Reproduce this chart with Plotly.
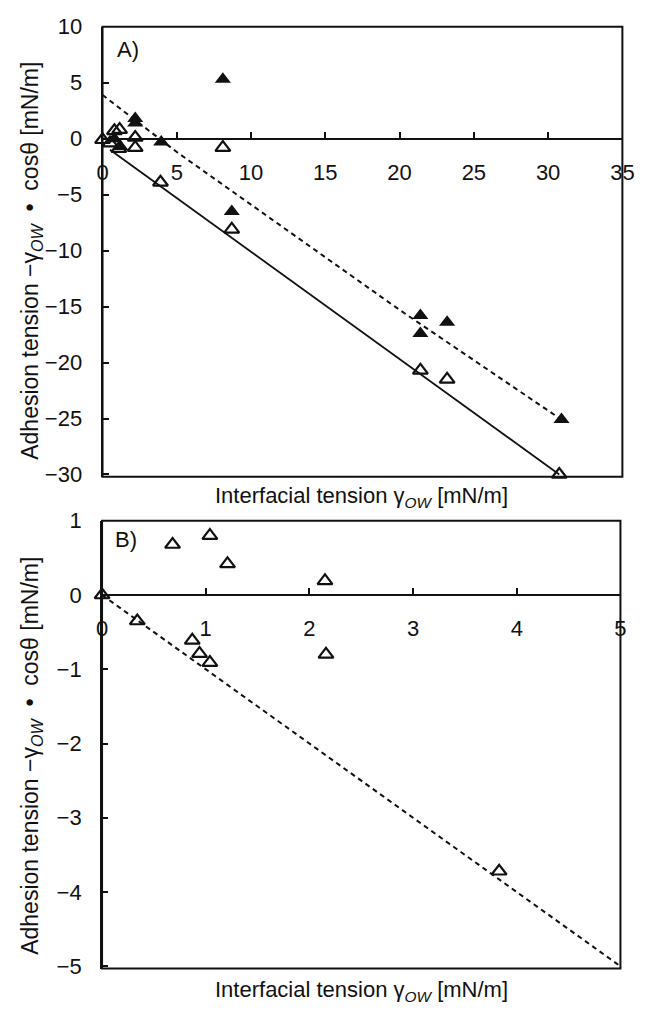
import plotly.graph_objects as go

# ---------------- data ----------------
# Panel A
a_open_x = [0.0, 0.5, 0.8, 1.15, 1.1, 2.2, 2.2, 3.9, 8.1, 8.7, 21.4, 23.2, 30.75]
a_open_y = [-0.1, -0.4, 0.7, 0.8, -0.9, 0.1, -0.8, -3.9, -0.8, -8.1, -20.7, -21.5, -30.0]
a_filled_x = [0.8, 1.2, 2.2, 2.2, 3.95, 8.1, 8.7, 21.4, 21.4, 23.2, 30.9]
a_filled_y = [0.0, -0.7, 1.8, 1.4, -0.3, 5.3, -6.5, -15.8, -17.4, -16.4, -25.1]
a_solid_x = [0.5, 30.75]
a_solid_y = [-1.0, -30.0]
a_dash_x = [0.0, 5.0, 20.0, 30.9]
a_dash_y = [3.9, -1.2, -15.3, -25.1]
a_xticks = [0, 5, 10, 15, 20, 25, 30, 35]
a_yticks = [10, 5, 0, -5, -10, -15, -20, -25, -30]

# Panel B
b_open_x = [0.0, 0.34, 0.68, 1.04, 1.21, 2.15, 0.87, 0.94, 1.04, 2.16, 3.83]
b_open_y = [0.0, -0.35, 0.68, 0.80, 0.42, 0.19, -0.61, -0.79, -0.91, -0.80, -3.72]
b_dash_x = [0.0, 5.0]
b_dash_y = [0.0, -5.0]
b_xticks = [0, 1, 2, 3, 4, 5]
b_yticks = [1, 0, -1, -2, -3, -4, -5]

x_title = "Interfacial tension γ<sub><i>OW</i></sub> [mN/m]"
y_title = "Adhesion tension −γ<sub><i>OW</i></sub>  •  cosθ [mN/m]"

# ---------------- layout geometry ----------------
W, H = 648, 1016
A_x = [99.3 / W, 634.0 / W]
A_y = [(H - 475.0) / H, (H - 15.0) / H]
A_xr = [0, 35]
A_yr = [-30.2, 10.0]
B_x = [98.8 / W, 632.0 / W]
B_y = [(H - 977.7) / H, (H - 520.0) / H]
B_xr = [0, 5]
B_yr = [-5.03, 1.0]


def zero_pos(dom, rng):
    return dom[0] + (0 - rng[0]) / (rng[1] - rng[0]) * (dom[1] - dom[0])


FONT = "Liberation Sans, Arial, Helvetica, sans-serif"
BLACK = "#111111"

fig = go.Figure()

# Panel A traces
fig.add_trace(go.Scatter(x=a_solid_x, y=a_solid_y, mode="lines",
                         line=dict(color=BLACK, width=1.8), xaxis="x", yaxis="y",
                         showlegend=False))
fig.add_trace(go.Scatter(x=a_dash_x, y=a_dash_y, mode="lines",
                         line=dict(color=BLACK, width=2, dash="5px,4px"),
                         xaxis="x", yaxis="y", showlegend=False))
fig.add_trace(go.Scatter(x=a_open_x, y=a_open_y, mode="markers",
                         marker=dict(symbol="triangle-up-open", size=13, color=BLACK,
                                     line=dict(width=2.2, color=BLACK)),
                         cliponaxis=False, xaxis="x", yaxis="y", showlegend=False))
fig.add_trace(go.Scatter(x=a_filled_x, y=a_filled_y, mode="markers",
                         marker=dict(symbol="triangle-up", size=14, color=BLACK),
                         cliponaxis=False, xaxis="x", yaxis="y", showlegend=False))

# Panel B traces
fig.add_trace(go.Scatter(x=b_dash_x, y=b_dash_y, mode="lines",
                         line=dict(color=BLACK, width=2, dash="5px,4px"),
                         xaxis="x2", yaxis="y2", showlegend=False))
fig.add_trace(go.Scatter(x=b_open_x, y=b_open_y, mode="markers",
                         marker=dict(symbol="triangle-up-open", size=13, color=BLACK,
                                     line=dict(width=2.2, color=BLACK)),
                         cliponaxis=False, xaxis="x2", yaxis="y2", showlegend=False))

tickfont = dict(family=FONT, size=22, color=BLACK)

xcommon = dict(showgrid=False, zeroline=False, showline=True, linecolor=BLACK,
               linewidth=2, ticks="inside", ticklen=6, tickwidth=1.5, tickcolor=BLACK,
               tickfont=tickfont, anchor="free", ticklabelstandoff=14)
ycommon = dict(showgrid=False, zeroline=False, showline=True, linecolor=BLACK,
               linewidth=2, ticks="inside", ticklen=6, tickwidth=1.5, tickcolor=BLACK,
               tickfont=tickfont, ticklabelstandoff=14)

fig.update_layout(
    width=W, height=H, autosize=False,
    margin=dict(l=0, r=0, t=0, b=0),
    paper_bgcolor="white", plot_bgcolor="white",
    font=dict(family=FONT, color=BLACK),
    xaxis=dict(domain=A_x, range=A_xr, tickvals=a_xticks,
               position=zero_pos(A_y, A_yr), **xcommon),
    yaxis=dict(domain=A_y, range=A_yr, tickvals=a_yticks, anchor="x", **ycommon),
    xaxis2=dict(domain=B_x, range=B_xr, tickvals=b_xticks,
                position=zero_pos(B_y, B_yr), **xcommon),
    yaxis2=dict(domain=B_y, range=B_yr, tickvals=b_yticks, anchor="x2", **ycommon),
)

# frames
for xr, yr in (("x", "y"), ("x2", "y2")):
    fig.add_shape(type="rect", xref=f"{xr} domain", yref=f"{yr} domain",
                  x0=0, x1=1, y0=0, y1=1, line=dict(color=BLACK, width=2),
                  layer="above")

xt_font = dict(family=FONT, size=22, color=BLACK)
yt_font = dict(family=FONT, size=23, color=BLACK)
common_ann = dict(xref="paper", yref="paper", showarrow=False,
                  xanchor="center", yanchor="middle")
annotations = [
    # panel labels
    dict(text="A)", x=125 / W, y=1 - 38 / H,
         font=dict(family=FONT, size=22, color=BLACK), **common_ann),
    dict(text="B)", x=123 / W, y=1 - 539 / H,
         font=dict(family=FONT, size=22, color=BLACK), **common_ann),
    # x titles
    dict(text=x_title, x=366 / W, y=1 - 496 / H, font=xt_font, **common_ann),
    dict(text=x_title, x=366 / W, y=1 - 1001 / H, font=xt_font, **common_ann),
    # y titles
    dict(text=y_title, x=26 / W, y=1 - 254 / H, textangle=-90,
         font=yt_font, **common_ann),
    dict(text=y_title, x=26 / W, y=1 - 760 / H, textangle=-90,
         font=yt_font, **common_ann),
]
fig.update_layout(annotations=annotations)

fig.write_html(
    "out.html",
    post_script="document.body.style.margin='0';document.body.style.overflow='hidden';",
)
